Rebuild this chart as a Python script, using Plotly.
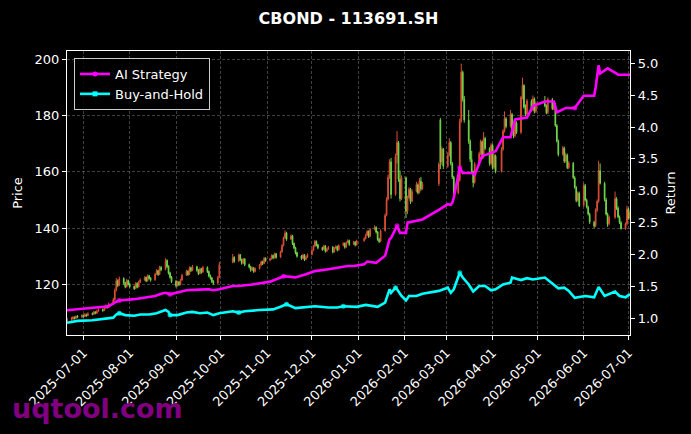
import pandas as pd
import plotly.graph_objects as go

# ---------------- data ----------------
HOLIDAYS = ['2025-10-01', '2025-10-02', '2025-10-03', '2025-10-06', '2025-10-07', '2025-10-08',
            '2026-01-01', '2026-01-02', '2026-02-16', '2026-02-17', '2026-02-18', '2026-02-19',
            '2026-02-20', '2026-02-23', '2026-04-06', '2026-05-01', '2026-05-04', '2026-05-05',
            '2026-06-19']
START, END = '2025-06-20', '2026-07-02'

OPENS = [
    107.0, 107.6, 107.7, 108.3, 107.9, 108.7, 108.4,
    109.0, 108.6, 109.3, 108.9, 109.7, 109.4, 110.2, 109.8, 110.5, 111.1, 110.7, 111.6, 112.4, 111.9, 113.1, 114.6, 117.9, 121.3, 119.7, 122.1, 120.5, 119.2, 121.4,
    120.1, 119.3, 118.6, 120.4, 119.1, 120.9, 121.7, 122.5, 121.3, 123.1, 122.2, 121.6, 123.7, 124.9, 123.6, 126.1, 125.3, 128.5, 126.4, 124.1, 122.6,
    121.1, 119.6, 120.9, 120.0, 121.6, 123.3, 124.7, 123.6, 125.9, 125.0, 126.3, 125.1, 123.9, 125.6, 124.4, 126.1, 124.6, 123.1, 122.3, 121.1, 120.5, 122.6,
    127.8, 129.6, 128.3, 130.5, 128.9, 127.6, 129.0, 127.1, 126.3, 125.1, 125.9, 124.7, 125.6, 126.9, 128.1, 127.5, 129.3,
    128.6, 129.1, 130.3, 129.5, 130.9, 129.7, 131.6, 133.9, 136.6, 138.3, 136.1, 137.3, 134.6, 133.1, 131.3, 130.1, 129.3, 130.5, 128.9, 129.7,
    130.6, 132.1, 133.6, 135.3, 134.1, 133.1, 132.5, 133.7, 131.9, 132.6, 133.3, 131.6, 132.9, 133.5, 132.3, 133.9, 134.6, 133.3, 134.9, 135.6, 134.3, 135.1, 134.1,
    135.5, 136.3, 137.6, 138.9, 137.1, 139.6, 140.3, 138.7, 136.1, 135.3, 139.1, 144.6, 150.3, 158.1, 163.6, 152.1, 166.0, 170.4, 157.4, 150.6,
    157.9, 146.1, 150.9, 153.7, 149.6, 153.1, 155.4, 152.7, 156.7, 154.1, 155.8, 178.5, 163.6, 168.0,
    162.1, 166.1, 170.4, 162.9, 158.1, 152.6, 157.1, 178.1, 195.4, 185.9, 178.4, 170.9, 164.4, 159.9, 156.3, 162.9, 166.6, 170.7, 165.3, 171.9, 168.3, 163.1,
    169.4, 161.6, 165.7, 160.3, 168.1, 174.6, 178.9, 176.3, 180.4, 174.9, 172.9, 177.4, 174.1, 186.6, 190.7, 182.9, 180.6, 185.1, 182.1, 185.9, 181.6,
    184.3, 183.4, 181.1, 185.7, 182.6, 183.9, 176.4, 170.9, 166.3, 168.4, 163.9, 165.9, 161.6, 163.1, 157.9, 154.4, 149.9, 152.4,
    148.1, 155.1, 149.9, 147.4, 144.9, 142.1, 140.9, 146.4, 149.6, 160.4, 155.9, 150.1, 144.9, 141.6, 143.9, 150.4, 147.1, 143.9, 141.9, 139.9, 141.6,
    146.7, 143.6,
]
HIGHS = [
    108.2, 108.4, 108.8, 108.6, 109.0, 109.1, 109.4,
    109.3, 109.8, 109.6, 110.1, 110.0, 110.6, 110.5, 111.0, 111.6, 111.4, 112.0, 112.9, 112.7, 113.6, 115.2, 118.5, 122.3, 121.8, 122.8, 122.5, 120.9, 121.9, 121.7,
    120.5, 119.6, 120.8, 120.7, 121.3, 122.1, 122.9, 122.8, 123.5, 123.4, 122.6, 124.1, 125.4, 125.2, 126.6, 126.5, 129.3, 128.9, 126.8, 124.5, 123.0,
    121.5, 121.3, 121.2, 122.0, 123.8, 125.2, 125.0, 126.4, 126.3, 126.9, 126.6, 125.4, 126.0, 125.9, 126.6, 126.4, 124.9, 123.5, 122.6, 121.5, 123.0, 128.0,
    130.8, 130.0, 131.0, 130.8, 129.2, 129.4, 129.3, 127.4, 126.6, 126.3, 126.2, 126.0, 127.3, 128.5, 128.4, 129.8, 129.6,
    129.4, 130.7, 130.6, 131.3, 131.2, 132.0, 134.3, 137.0, 139.2, 138.7, 137.8, 137.6, 134.9, 133.4, 131.6, 130.4, 130.9, 130.8, 130.1, 131.0,
    132.5, 134.0, 135.8, 135.6, 134.4, 133.4, 134.1, 134.0, 133.0, 133.7, 133.6, 133.3, 133.9, 133.8, 134.3, 135.0, 134.9, 135.3, 136.0, 135.9, 135.5, 135.4, 135.9,
    136.8, 138.0, 139.3, 139.2, 140.0, 141.0, 140.6, 139.0, 136.5, 139.6, 145.2, 151.0, 159.0, 164.5, 165.0, 166.5, 174.5, 171.0, 160.5, 158.8,
    158.4, 151.5, 154.5, 154.3, 153.8, 156.5, 155.9, 157.8, 158.2, 156.4, 163.5, 179.2, 169.0, 168.5,
    167.0, 172.0, 171.0, 163.5, 158.6, 158.0, 179.0, 198.5, 196.0, 187.0, 182.0, 171.5, 167.5, 160.5, 163.5, 167.2, 171.5, 171.2, 174.2, 172.5, 168.8, 170.2,
    170.0, 166.5, 166.2, 168.8, 175.2, 181.5, 179.5, 182.0, 181.0, 175.5, 178.2, 178.0, 187.0, 193.5, 191.2, 184.0, 186.0, 185.8, 187.2, 186.5, 185.0,
    187.0, 184.0, 186.5, 186.3, 184.6, 184.5, 177.0, 171.5, 169.2, 169.0, 166.8, 166.5, 163.8, 163.5, 158.5, 155.0, 153.0, 153.0,
    156.0, 155.7, 150.5, 148.0, 145.5, 142.6, 147.0, 150.2, 164.0, 163.0, 156.5, 150.8, 145.5, 144.5, 153.0, 151.0, 147.8, 144.5, 142.5, 142.0, 148.0,
    147.3, 146.2,
]
LOWS = [
    106.6, 107.1, 107.4, 107.5, 107.7, 108.0, 108.1,
    108.2, 108.4, 108.5, 108.7, 109.0, 109.2, 109.4, 109.5, 110.2, 110.3, 110.5, 111.3, 111.4, 111.7, 112.8, 114.2, 117.5, 119.0, 119.4, 119.9, 118.6, 118.9, 119.6,
    118.8, 118.0, 118.3, 118.6, 118.9, 120.5, 121.3, 120.8, 121.0, 121.7, 121.0, 121.3, 123.4, 123.0, 123.3, 124.7, 125.0, 125.8, 123.5, 122.0, 120.5,
    118.9, 119.2, 119.4, 119.7, 121.3, 123.0, 123.0, 123.3, 124.4, 124.7, 124.5, 123.3, 123.6, 123.8, 124.1, 124.0, 122.5, 121.7, 120.5, 119.8, 120.2, 122.3,
    127.5, 127.7, 128.0, 128.3, 127.0, 127.3, 126.5, 125.7, 124.5, 124.8, 124.1, 124.3, 125.3, 126.5, 126.9, 127.2, 128.0,
    128.2, 128.8, 128.9, 129.2, 129.1, 129.4, 131.3, 133.5, 136.2, 135.5, 135.8, 134.0, 132.5, 130.7, 129.5, 128.7, 129.0, 128.3, 128.6, 129.4,
    130.3, 131.8, 133.3, 133.5, 132.5, 131.9, 132.2, 131.3, 131.5, 132.3, 131.0, 131.3, 132.6, 131.7, 132.0, 133.6, 132.7, 133.0, 134.6, 133.7, 134.0, 133.5, 133.8,
    135.2, 136.0, 137.2, 136.5, 136.8, 139.2, 138.1, 135.5, 134.7, 135.0, 138.8, 144.2, 149.8, 157.5, 150.5, 151.5, 163.0, 156.5, 149.5, 150.0,
    143.6, 145.0, 150.4, 148.6, 149.2, 152.7, 152.0, 152.3, 153.3, 153.6, 155.0, 161.0, 162.5, 161.0,
    161.5, 165.5, 162.3, 157.5, 150.5, 152.0, 156.5, 177.5, 185.0, 177.5, 170.0, 163.5, 159.5, 154.5, 155.8, 162.3, 166.0, 164.5, 164.8, 167.8, 162.2, 162.5,
    160.8, 161.0, 159.5, 159.8, 167.5, 174.0, 175.5, 175.8, 174.5, 172.0, 172.3, 173.5, 173.5, 185.8, 182.5, 179.8, 180.0, 181.5, 181.6, 180.8, 181.0,
    183.0, 180.5, 180.6, 182.0, 182.0, 176.0, 170.5, 165.5, 165.8, 163.2, 163.3, 161.0, 161.0, 157.5, 154.0, 149.2, 149.4, 147.5,
    147.6, 149.5, 147.0, 144.5, 141.5, 140.0, 140.4, 145.8, 149.0, 155.5, 149.5, 144.5, 140.5, 141.0, 143.3, 146.5, 143.5, 141.5, 139.5, 139.4, 141.0,
    143.0, 143.0,
]
CLOSES = [
    107.5, 107.8, 108.2, 107.9, 108.6, 108.3, 108.9,
    108.5, 109.2, 108.8, 109.6, 109.3, 110.1, 109.7, 110.4, 111.0, 110.6, 111.5, 112.3, 111.8, 113.0, 114.5, 117.8, 121.2, 119.6, 122.0, 120.4, 119.1, 121.3, 120.0,
    119.2, 118.5, 120.3, 119.0, 120.8, 121.6, 122.4, 121.2, 123.0, 122.1, 121.5, 123.6, 124.8, 123.5, 126.0, 125.2, 128.4, 126.3, 124.0, 122.5, 121.0,
    119.5, 120.8, 119.9, 121.5, 123.2, 124.6, 123.5, 125.8, 124.9, 126.2, 125.0, 123.8, 125.5, 124.3, 126.0, 124.5, 123.0, 122.2, 121.0, 120.4, 122.5, 127.0,
    129.5, 128.2, 130.4, 128.8, 127.5, 128.9, 127.0, 126.2, 125.0, 125.8, 124.6, 125.5, 126.8, 128.0, 127.4, 129.2, 128.5,
    129.0, 130.2, 129.4, 130.8, 129.6, 131.5, 133.8, 136.5, 138.2, 136.0, 137.2, 134.5, 133.0, 131.2, 130.0, 129.2, 130.4, 128.8, 129.6, 130.5,
    132.0, 133.5, 135.2, 134.0, 133.0, 132.4, 133.6, 131.8, 132.5, 133.2, 131.5, 132.8, 133.4, 132.2, 133.8, 134.5, 133.2, 134.8, 135.5, 134.2, 135.0, 134.0, 135.4,
    136.2, 137.5, 138.8, 137.0, 139.5, 140.2, 138.6, 136.0, 135.2, 139.0, 144.5, 150.2, 158.0, 163.5, 152.0, 165.5, 170.5, 157.5, 150.5, 158.0,
    146.0, 150.8, 153.8, 149.5, 153.0, 155.5, 152.6, 156.8, 154.0, 155.6, 162.8, 163.5, 168.2, 162.0,
    166.0, 170.5, 163.0, 158.2, 152.5, 157.0, 178.0, 195.5, 186.0, 178.5, 171.0, 164.5, 160.0, 156.2, 162.8, 166.5, 170.8, 165.2, 172.0, 168.4, 163.0, 169.5,
    161.5, 165.8, 160.2, 168.0, 174.5, 179.0, 176.2, 180.5, 175.0, 172.8, 177.5, 174.0, 186.5, 190.8, 183.0, 180.5, 185.2, 182.0, 186.0, 181.5, 184.2,
    183.5, 181.0, 185.8, 182.5, 184.0, 176.5, 171.0, 166.2, 168.5, 163.8, 166.0, 161.5, 163.2, 158.0, 154.5, 149.8, 152.5, 148.0,
    155.2, 150.0, 147.5, 145.0, 142.2, 140.8, 146.5, 149.5, 160.5, 156.0, 150.2, 145.0, 141.5, 143.8, 150.5, 147.2, 144.0, 142.0, 139.8, 141.5, 146.8,
    143.5, 145.5,
]

AI_DATES = ['2025-06-20', '2025-07-03', '2025-07-11', '2025-07-18', '2025-07-23', '2025-07-25', '2025-08-04',
            '2025-08-11', '2025-08-18', '2025-08-22', '2025-08-25', '2025-08-28', '2025-09-01', '2025-09-08',
            '2025-09-17', '2025-09-23', '2025-09-26', '2025-09-30', '2025-10-09', '2025-10-13', '2025-10-22',
            '2025-11-03', '2025-11-10', '2025-11-12', '2025-11-17', '2025-11-20', '2025-11-27', '2025-12-03',
            '2025-12-12', '2025-12-19', '2025-12-25', '2025-12-29', '2026-01-05', '2026-01-07', '2026-01-13',
            '2026-01-19', '2026-01-21', '2026-01-22', '2026-01-23', '2026-01-26', '2026-01-27', '2026-01-29',
            '2026-02-02', '2026-02-03', '2026-02-13', '2026-02-24', '2026-03-02', '2026-03-04', '2026-03-05',
            '2026-03-06', '2026-03-09', '2026-03-10', '2026-03-12', '2026-03-18', '2026-03-20', '2026-03-23',
            '2026-03-25', '2026-03-27', '2026-04-03', '2026-04-08', '2026-04-13', '2026-04-16', '2026-04-24',
            '2026-04-28', '2026-05-06', '2026-05-12', '2026-05-14', '2026-05-20', '2026-05-26', '2026-06-01',
            '2026-06-08', '2026-06-09', '2026-06-11', '2026-06-12', '2026-06-17', '2026-06-23', '2026-06-24',
            '2026-07-02']
AI_RETURN = [1.125, 1.15, 1.167, 1.19, 1.26, 1.28, 1.30,
             1.32, 1.35, 1.386, 1.40, 1.376, 1.40, 1.44,
             1.45, 1.455, 1.44, 1.455, 1.507, 1.507, 1.53,
             1.575, 1.64, 1.66, 1.65, 1.64, 1.69, 1.74,
             1.77, 1.80, 1.82, 1.82, 1.847, 1.89, 1.87,
             1.98, 2.16, 2.24, 2.26, 2.42, 2.45, 2.34,
             2.34, 2.50, 2.55, 2.70, 2.79, 2.78, 2.81,
             2.89, 3.26, 3.36, 3.28, 3.28, 3.25, 3.42,
             3.55, 3.56, 3.62, 3.84, 3.84, 4.12, 4.15,
             4.33, 4.40, 4.40, 4.23, 4.30, 4.30, 4.49,
             4.49, 4.62, 4.97, 4.84, 4.92, 4.84, 4.82,
             4.82]
AI_MARK_DATES = ['2025-07-25', '2025-08-28', '2025-11-12', '2026-01-27', '2026-03-10', '2026-05-26']

BH_DATES = ['2025-06-20', '2025-06-27', '2025-07-07', '2025-07-16', '2025-07-21', '2025-07-23', '2025-07-25',
            '2025-07-29', '2025-08-04', '2025-08-08', '2025-08-14', '2025-08-19', '2025-08-25', '2025-08-27',
            '2025-08-28', '2025-09-02', '2025-09-08', '2025-09-12', '2025-09-17', '2025-09-22', '2025-09-26',
            '2025-09-30', '2025-10-09', '2025-10-13', '2025-10-17', '2025-10-27', '2025-11-05', '2025-11-10',
            '2025-11-13', '2025-11-14', '2025-11-20', '2025-11-26', '2025-12-03', '2025-12-12', '2025-12-18',
            '2025-12-22', '2025-12-31', '2026-01-06', '2026-01-12', '2026-01-14', '2026-01-19', '2026-01-21',
            '2026-01-22', '2026-01-23', '2026-01-26', '2026-01-27', '2026-01-30', '2026-02-02', '2026-02-04',
            '2026-02-09', '2026-02-13', '2026-02-24', '2026-02-27', '2026-03-02', '2026-03-04', '2026-03-06',
            '2026-03-10', '2026-03-12', '2026-03-16', '2026-03-19', '2026-03-23', '2026-03-27', '2026-03-31',
            '2026-04-03', '2026-04-08', '2026-04-13', '2026-04-14', '2026-04-20', '2026-04-24', '2026-04-28',
            '2026-05-06', '2026-05-08', '2026-05-12', '2026-05-15', '2026-05-19', '2026-05-22', '2026-05-26',
            '2026-05-29', '2026-06-02', '2026-06-08', '2026-06-11', '2026-06-15', '2026-06-22', '2026-06-25',
            '2026-06-29', '2026-07-02']
BH_RETURN = [0.93, 0.96, 0.97, 0.99, 1.01, 1.06, 1.08,
             1.05, 1.04, 1.06, 1.06, 1.08, 1.13, 1.10,
             1.05, 1.05, 1.09, 1.10, 1.08, 1.09, 1.05,
             1.08, 1.11, 1.09, 1.11, 1.13, 1.14, 1.18,
             1.22, 1.22, 1.16, 1.17, 1.19, 1.17, 1.17,
             1.19, 1.18, 1.21, 1.19, 1.18, 1.245, 1.376,
             1.455, 1.40, 1.48, 1.455, 1.35, 1.28, 1.35,
             1.35, 1.386, 1.43, 1.455, 1.48, 1.40, 1.455,
             1.715, 1.64, 1.53, 1.42, 1.507, 1.507, 1.44,
             1.455, 1.53, 1.56, 1.64, 1.60, 1.63, 1.61,
             1.64, 1.60, 1.53, 1.47, 1.48, 1.43, 1.32,
             1.33, 1.35, 1.33, 1.49, 1.35, 1.42, 1.35,
             1.33, 1.38]
BH_MARK_DATES = ['2025-07-25', '2025-08-28', '2025-10-13', '2025-11-14', '2025-12-22', '2026-01-26', '2026-03-10']

MONTH_TICKS = ['2025-07-01', '2025-08-01', '2025-09-01', '2025-10-01', '2025-11-01', '2025-12-01',
               '2026-01-01', '2026-02-01', '2026-03-01', '2026-04-01', '2026-05-01', '2026-06-01',
               '2026-07-01']
PRICE_TICKS = [120, 140, 160, 180, 200]
RETURN_TICKS = [1.0, 1.5, 2.0, 2.5, 3.0, 3.5, 4.0, 4.5, 5.0]

# ---------------- style ----------------
RED = '#f0553a'
GREEN = '#7be84e'
MAGENTA = '#ff00ff'
CYAN = '#00ffff'
FONT = 'DejaVu Sans'
GRID = 'rgba(128,128,128,0.5)'

dates = [d for d in pd.bdate_range(START, END) if d.strftime('%Y-%m-%d') not in HOLIDAYS]
n = min(len(dates), len(CLOSES))
dates = dates[:n]

fig = go.Figure()
fig.add_trace(go.Candlestick(
    x=dates, open=OPENS[:n], high=HIGHS[:n], low=LOWS[:n], close=CLOSES[:n],
    increasing=dict(line=dict(color=RED, width=1), fillcolor=RED),
    decreasing=dict(line=dict(color=GREEN, width=1), fillcolor=GREEN),
    whiskerwidth=0, showlegend=False, hoverinfo='skip', opacity=0.92,
    xaxis='x', yaxis='y'))

ai_sizes = [5 if d in AI_MARK_DATES else 0 for d in AI_DATES]
bh_sizes = [5 if d in BH_MARK_DATES else 0 for d in BH_DATES]

fig.add_trace(go.Scatter(x=AI_DATES, y=AI_RETURN, mode='lines+markers',
                         line=dict(color=MAGENTA, width=2.6),
                         marker=dict(color=MAGENTA, size=ai_sizes, line=dict(width=0)),
                         showlegend=False, yaxis='y2'))
fig.add_trace(go.Scatter(x=BH_DATES, y=BH_RETURN, mode='lines+markers',
                         line=dict(color=CYAN, width=2.6),
                         marker=dict(color=CYAN, size=bh_sizes, line=dict(width=0)),
                         showlegend=False, yaxis='y2'))
# legend entries
fig.add_trace(go.Scatter(x=[None], y=[None], mode='lines+markers', name='AI Strategy',
                         line=dict(color=MAGENTA, width=2.6), marker=dict(color=MAGENTA, size=5),
                         yaxis='y2'))
fig.add_trace(go.Scatter(x=[None], y=[None], mode='lines+markers', name='Buy-and-Hold',
                         line=dict(color=CYAN, width=2.6), marker=dict(color=CYAN, size=5, symbol='square'),
                         yaxis='y2'))

L, R, T, B = 67, 61, 51, 99
W, H = 691, 434
pw, ph = W - L - R, H - T - B

axis_common = dict(showline=True, linecolor='white', linewidth=1.2, ticks='outside', ticklen=4,
                   tickcolor='white', tickwidth=1, tickfont=dict(family=FONT, size=13, color='white'),
                   zeroline=False)

fig.update_layout(
    width=W, height=H, autosize=False,
    margin=dict(l=L, r=R, t=T, b=B, pad=0),
    paper_bgcolor='black', plot_bgcolor='black',
    font=dict(family=FONT, size=13, color='white'),
    title=dict(text='<b>CBOND - 113691.SH</b>', x=0.5, xref='paper', xanchor='center',
               y=1 - 18 / H, yref='container', yanchor='middle',
               font=dict(family=FONT, size=16, color='white')),
    xaxis=dict(type='date', range=[START, END], tickvals=MONTH_TICKS, ticktext=MONTH_TICKS,
               tickangle=-45, showgrid=True, gridcolor=GRID, griddash='3px,2px', gridwidth=0.6,
               mirror=True, rangeslider=dict(visible=False), **axis_common),
    yaxis=dict(range=[102, 203], tickvals=PRICE_TICKS, ticktext=[str(v) for v in PRICE_TICKS],
               showgrid=True, gridcolor=GRID, griddash='3px,2px', gridwidth=0.6,
               title=dict(text='Price', font=dict(family=FONT, size=13, color='white'), standoff=8),
               **axis_common),
    yaxis2=dict(overlaying='y', side='right', range=[0.738, 5.193], tickvals=RETURN_TICKS,
                ticktext=[f'{v:.1f}' for v in RETURN_TICKS], showgrid=False,
                title=dict(text='Return', font=dict(family=FONT, size=13, color='white'), standoff=8),
                **axis_common),
    legend=dict(x=7 / pw, y=1 - 7 / ph, xanchor='left', yanchor='top', bgcolor='rgba(0,0,0,0.85)',
                bordercolor='#cccccc', borderwidth=1, font=dict(family=FONT, size=13, color='white'),
                tracegroupgap=2),
    annotations=[dict(text='<b>uqtool.com</b>', xref='paper', yref='paper',
                      x=(10 - L) / pw, y=(H - B - 408) / ph, xanchor='left', yanchor='middle',
                      showarrow=False, font=dict(family=FONT, size=27, color='#800080'))],
    showlegend=True, hovermode=False,
)

fig.write_html('out.html')
